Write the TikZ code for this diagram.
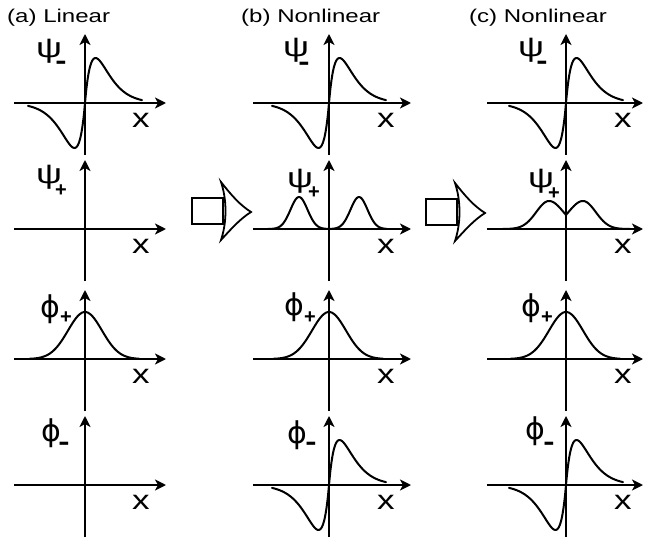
\documentclass[tikz,border=0pt]{standalone}
\usepackage{fontspec}
\newfontfamily\labs{Liberation Sans}[FakeStretch=1.3]
\newfontfamily\labn{Liberation Sans}
\newfontfamily\labd{DejaVu Sans}
\usetikzlibrary{arrows.meta}
\newcommand\oddcurve[2]{\draw[curve,shift={(#1,#2)}] plot[domain=-57:57,samples=115,smooth] (\x,{-45*(\x/10.5)*exp(1-abs(\x)/10.5)});}
\begin{document}
\begin{tikzpicture}[x=1pt,y=-1pt,
 axis/.style={line width=2pt,-{Stealth[length=11pt,width=11pt,inset=3pt]}},
 curve/.style={line width=2pt,line join=round,line cap=round},
 ttl/.style={font=\labs\fontsize{18.5}{18.5}\selectfont,inner sep=0pt,anchor=base west},
 xlab/.style={font=\labs\fontsize{27}{27}\selectfont,inner sep=0pt},
 psil/.style={font=\labs\fontsize{28}{28}\selectfont,inner sep=0pt},
 phil/.style={font=\labd\fontsize{30}{30}\selectfont,inner sep=0pt},
 plusl/.style={font=\labn\bfseries\fontsize{20}{20}\selectfont,inner sep=0pt},
 minl/.style={font=\labs\bfseries\fontsize{26}{26}\selectfont,inner sep=0pt},
 blk/.style={line width=1.8pt,line join=miter}]
\useasboundingbox (0,0) rectangle (645,540);
% titles
\node[ttl] (ta) at (7,23) {(a) Linear};
\node[ttl] (tb) at (241,23) {(b) Nonlinear};
\node[ttl] (tc) at (469,23) {(c) Nonlinear};
% axes
\foreach \col/\cx/\xl/\xr/\xo in {a/85/14/166/56, b/329/253/411/57, c/566/487/643/57}{
 \foreach \row/\ry in {1/103,2/229,3/359,4/485}{
  \coordinate (\col\row L) at (\xl,\ry);
  \coordinate (\col\row R) at (\xr,\ry);
  \coordinate (\col\row T) at (\cx,{\ry-69});
  \coordinate (\col\row B) at (\cx,{\ry+52});
  \draw[axis] (\col\row L) -- (\col\row R);
  \draw[axis] (\col\row B) -- (\col\row T);
  \node[xlab] (\col\row x) at ({\cx+\xo},{\ry+17}) {x};
 }}
% row 1 curves
\oddcurve{85}{103}
\oddcurve{329}{103}
\oddcurve{566}{103}
% row 4 curves
\oddcurve{329}{485}
\oddcurve{566}{485}
% row 2 curves
\draw[curve,shift={(329,229)}] plot[domain=-61:58,samples=120,smooth] (\x,{-32*(exp(-(\x-30)*(\x-30)/144)+exp(-(\x+30)*(\x+30)/144))});
\draw[curve,shift={(566,229)}] plot[domain=-63:0,samples=64] (\x,{-28*exp(-(abs(\x)-17)*(abs(\x)-17)/(abs(\x)>17 ? 324 : 420))})
  -- plot[domain=0:64,samples=65] (\x,{-28*exp(-(abs(\x)-17)*(abs(\x)-17)/(abs(\x)>17 ? 324 : 420))});
% row 3 curves
\foreach \cx in {85,329,566}{
 \draw[curve,shift={(\cx,359)}] plot[domain=-56:54,samples=111,smooth] (\x,{-47*exp(-\x*\x/576)});
}
% labels row 1
\node[psil] (pa1) at (49,51) {ψ};  \node[minl] (sa1) at (61,65) {-};
\node[psil] (pb1) at (296,50) {ψ}; \node[minl] (sb1) at (304,66) {-};
\node[psil] (pc1) at (531,50) {ψ}; \node[minl] (sc1) at (542,65) {-};
% labels row 2
\node[psil] (pa2) at (49,177) {ψ};  \node[plusl] (sa2) at (61,191) {+};
\node[psil] (pb2) at (300,181) {ψ}; \node[plusl] (sb2) at (314,193) {+};
\node[psil] (pc2) at (541,181) {ψ}; \node[plusl] (sc2) at (554,194) {+};
% labels row 3
\node[phil] (pa3) at (50,309) {ϕ};  \node[plusl] (sa3) at (66,318) {+};
\node[phil] (pb3) at (294,307) {ϕ}; \node[plusl] (sb3) at (310,318) {+};
\node[phil] (pc3) at (531,308) {ϕ}; \node[plusl] (sc3) at (547,318) {+};
% labels row 4
\node[phil] (pa4) at (51,433) {ϕ};  \node[minl] (sa4) at (64,446) {-};
\node[phil] (pb4) at (297,435) {ϕ}; \node[minl] (sb4) at (311,446) {-};
\node[phil] (pc4) at (535,431) {ϕ}; \node[minl] (sc4) at (549,446) {-};
% block arrows
\foreach \dx/\dy in {0/0,234/1}{
 \begin{scope}[shift={(\dx,\dy)}]
 \draw[blk] (192,198) rectangle (223,224);
 \draw[blk] (221,182) .. controls (232,196) and (240,205) .. (251,212)
   .. controls (240,219) and (232,228) .. (221,240)
   .. controls (227,222) and (227,200) .. cycle;
 \end{scope}
}
\end{tikzpicture}
\end{document}
